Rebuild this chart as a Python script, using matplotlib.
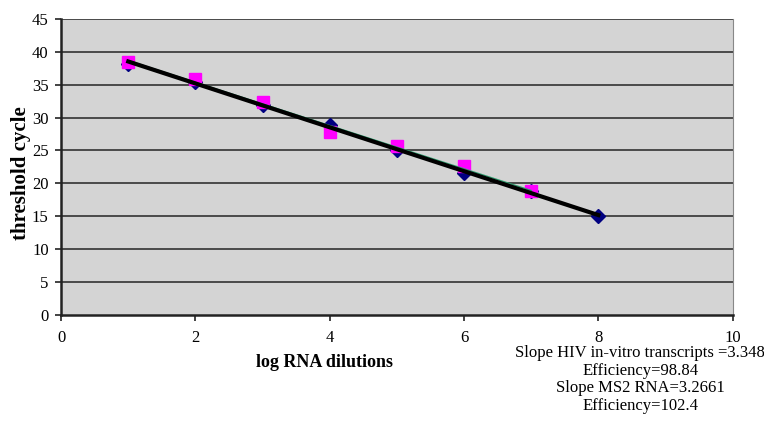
import numpy as np
import matplotlib.pyplot as plt

# log RNA dilutions
hiv_x = [1, 2, 3, 4, 5, 6, 7, 8]
hiv_ct = [38.2, 35.4, 31.9, 28.8, 25.1, 21.6, 18.8, 15.0]
ms2_x = [1, 2, 3, 4, 5, 6, 7]
ms2_ct = [38.5, 35.8, 32.3, 27.8, 25.7, 22.6, 18.8]

notes = ["Slope HIV in-vitro transcripts =3.348",
         "Efficiency=98.84",
         "Slope MS2 RNA=3.2661",
         "Efficiency=102.4"]

plt.rcParams['font.family'] = ['Liberation Serif', 'DejaVu Serif']

fig = plt.figure(figsize=(7.64, 4.28), dpi=100)
ax = fig.add_axes([0.080, 0.264, 0.879, 0.692])
ax.set_facecolor('#d4d4d4')

# horizontal gridlines
for yv in range(5, 46, 5):
    ax.axhline(yv, color='#333333', lw=1.2, zorder=1)

# trendlines
hx = np.array(hiv_x, dtype=float)
mx = np.array(ms2_x, dtype=float)
ph = np.polyfit(hx, hiv_ct, 1)
pm = np.polyfit(mx, ms2_ct, 1)

ax.plot(hx, hiv_ct, 'D', color='#000080', ms=7, zorder=3)
ax.plot(mx, ms2_ct, 's', color='#ff00ff', ms=9, zorder=3)
ax.plot(mx, np.polyval(pm, mx), color='#2e9e6e', lw=1.0, zorder=4)
ax.plot(hx, np.polyval(ph, hx), color='black', lw=3.0, zorder=5)

ax.set_xlim(0, 10)
ax.set_ylim(0, 45)
ax.set_xticks([0, 2, 4, 6, 8, 10])
ax.set_yticks(range(0, 46, 5))
ax.tick_params(labelsize=12, length=4, width=1.2, color='#222222', pad=7)
ax.tick_params(axis='y', pad=5)

for s in ['left', 'bottom']:
    ax.spines[s].set_color('#222222')
    ax.spines[s].set_linewidth(1.8)
ax.spines['top'].set_visible(False)
ax.spines['right'].set_color('#888888')

ax.set_ylabel('threshold cycle', fontsize=15, fontweight='bold')
ax.yaxis.set_label_coords(-0.045, 0.48)
fig.text(0.425, 0.153, 'log RNA dilutions', fontsize=13, fontweight='bold',
         ha='center', va='center')

for i, t in enumerate(notes):
    fig.text(0.838, 0.175 - i * 0.041, t, fontsize=12, ha='center', va='center')

fig.savefig('out.png', dpi=100)
